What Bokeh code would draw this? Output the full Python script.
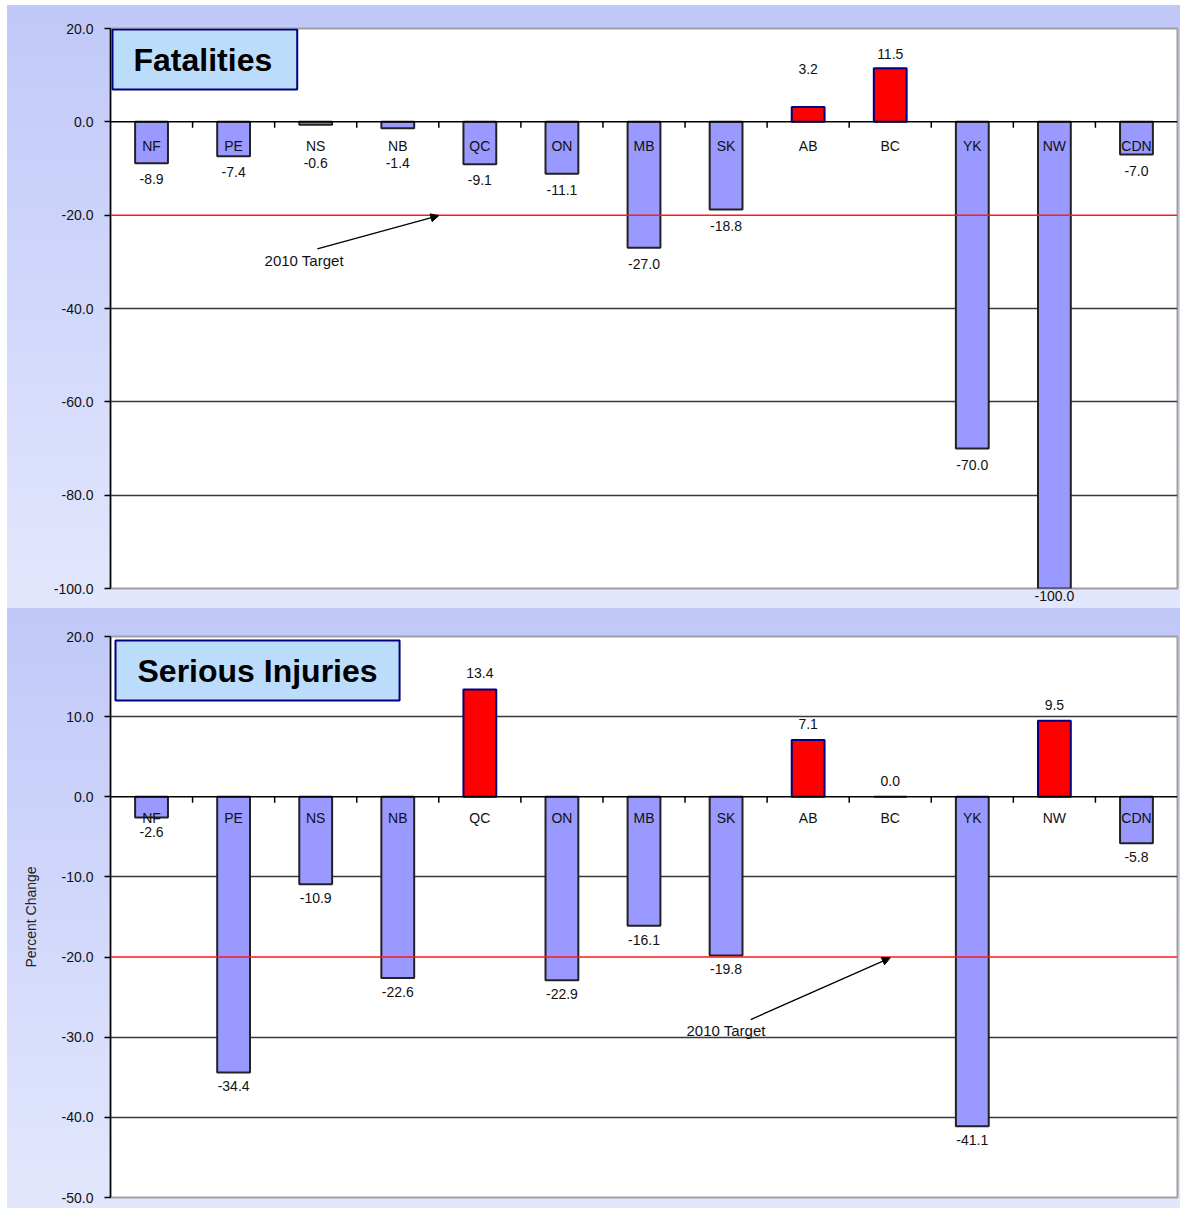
from bokeh.plotting import figure
from bokeh.models import (Range1d, FixedTicker, PrintfTickFormatter, Span, Label, Title,
                          Arrow, NormalHead, ColumnDataSource)
from bokeh.layouts import column
from bokeh.core.properties import value
from bokeh.embed import file_html
from bokeh.resources import INLINE

# ---------------- data ----------------
provinces = ["NF", "PE", "NS", "NB", "QC", "ON", "MB", "SK", "AB", "BC", "YK", "NW", "CDN"]
fatalities = [-8.9, -7.4, -0.6, -1.4, -9.1, -11.1, -27.0, -18.8, 3.2, 11.5, -70.0, -100.0, -7.0]
injuries = [-2.6, -34.4, -10.9, -22.6, 13.4, -22.9, -16.1, -19.8, 7.1, 0.0, -41.1, 9.5, -5.8]
fatal_ticks = [20, 0, -20, -40, -60, -80, -100]
injury_ticks = [20, 10, 0, -10, -20, -30, -40, -50]
target_2010 = -20
titles = ["Fatalities", "Serious Injuries"]
target_text = "2010 Target"
y_axis_title = "Percent Change"

FONT = "Liberation Sans"
NEG_FILL = "#9999ff"
POS_FILL = "#ff0000"


def panel(title, vals, ticks, frame_w, frame_h, b_left, b_top, b_bottom,
          neg_off, neg_min, pos_off, pos_min, cat_off, arrow, txt_pos,
          title_pad, title_off, axis_label=None):
    ymin, ymax = min(ticks), max(ticks)
    scale = frame_h / (ymax - ymin)  # px per unit
    n = len(provinces)
    p = figure(frame_width=frame_w, frame_height=frame_h,
               min_border_left=b_left, min_border_right=3,
               min_border_top=b_top, min_border_bottom=b_bottom,
               x_range=Range1d(-0.5, n - 0.5), y_range=Range1d(ymin, ymax),
               output_backend="svg", toolbar_location=None, tools="")
    p.styles = {"background": "linear-gradient(180deg, #c0c8f8 0%, #e3e7fd 100%)"}
    p.border_fill_color = None
    p.background_fill_color = "white"
    p.outline_line_color = "#a0a0a0"
    p.outline_line_width = 2

    p.xaxis.visible = False
    p.xgrid.visible = False
    p.ygrid.ticker = FixedTicker(ticks=[t for t in ticks if t not in (ymin, ymax, 0, target_2010)])
    p.ygrid.grid_line_color = "#383838"
    p.ygrid.grid_line_width = 1.5

    ax = p.yaxis[0]
    ax.ticker = FixedTicker(ticks=ticks)
    ax.formatter = PrintfTickFormatter(format="%.1f")
    ax.axis_line_color = "black"
    ax.axis_line_width = 1.5
    ax.major_tick_line_color = "black"
    ax.major_tick_line_width = 1.5
    ax.major_tick_out = 6
    ax.major_tick_in = 0
    ax.minor_tick_line_color = None
    ax.major_label_text_font = FONT
    ax.major_label_text_font_size = "14px"
    ax.major_label_text_color = "#111111"
    ax.major_label_standoff = 11
    if axis_label:
        ax.axis_label = axis_label
        ax.axis_label_text_font = FONT
        ax.axis_label_text_font_size = "14px"
        ax.axis_label_text_font_style = "normal"
        ax.axis_label_text_color = "#222222"
        ax.axis_label_standoff = 20

    xs = list(range(n))
    fills = [POS_FILL if v > 0 else NEG_FILL for v in vals]
    lines = ["#000080" if v > 0 else "#222222" for v in vals]
    src = ColumnDataSource(dict(x=xs, v=vals, fill=fills, line=lines,
                                cat=provinces, caty=[-cat_off / scale] * n))
    p.vbar(x="x", top="v", bottom=0, width=0.4, fill_color="fill", line_color="line",
           line_width=2, source=src)

    # zero axis line with category separator ticks
    p.add_layout(Span(location=0, dimension="width", line_color="black", line_width=1.5))
    p.segment(x0=[i + 0.5 for i in range(n - 1)], x1=[i + 0.5 for i in range(n - 1)],
              y0=[0] * (n - 1), y1=[-6 / scale] * (n - 1), line_color="black", line_width=1.5)

    p.text(x="x", y="caty", text="cat", source=src, text_align="center",
           text_baseline="middle", text_font=value(FONT), text_font_size="14px",
           text_color="#111111")

    # value labels
    frame_below = -ymin * scale  # px from zero line to frame bottom
    for xi, v in zip(xs, vals):
        txt = f"{v:.1f}"
        if v < 0:
            off = max(abs(v) * scale + neg_off, neg_min)
            if off > frame_below - 7:
                # label sits below the frame: draw it in the bottom border
                tw = 7.8 * len(txt.replace(".", "").replace("-", "")) + 3.9 + 4.7
                p.add_layout(Title(text=txt, align="left",
                                   offset=(xi + 0.5) * frame_w / n - tw / 2, standoff=0,
                                   text_font=FONT, text_font_size="14px",
                                   text_font_style="normal", text_color="#111111"),
                             "below")
                continue
            ly = -off / scale
        else:
            ly = max(v * scale + pos_off, pos_min) / scale
        p.add_layout(Label(x=xi, y=ly, text=txt, text_align="center",
                           text_baseline="middle", text_font=FONT, text_font_size="14px",
                           text_color="#111111"))

    # 2010 target line
    p.add_layout(Span(location=target_2010, dimension="width", line_color="#ff1a1a",
                      line_width=1.5))
    p.add_layout(Arrow(end=NormalHead(size=8, fill_color="black", line_color="black"),
                       x_start=arrow[0], y_start=arrow[1], x_end=arrow[2], y_end=arrow[3],
                       line_color="black", line_width=1.3))
    p.add_layout(Label(x=txt_pos[0], y=txt_pos[1], text=target_text, text_align="center",
                       text_baseline="middle", text_font=FONT, text_font_size="15px",
                       text_color="#111111"))

    # title box
    p.add_layout(Label(x=-0.5, y=ymax, x_offset=title_off[0], y_offset=title_off[1],
                       text=title, anchor="top_left", text_font=FONT,
                       text_font_size="32px", text_font_style="bold", text_color="black",
                       background_fill_color="#bcdcfc", border_line_color="#000080",
                       border_line_width=2, padding=title_pad))
    return p


top = panel(titles[0], fatalities, fatal_ticks, 1067, 560, 103, 23, 20,
            neg_off=16, neg_min=41, pos_off=14, pos_min=53, cat_off=24,
            arrow=(2.02, -27.2, 3.5, -20.1), txt_pos=(1.86, -29.8),
            title_pad=dict(left=21, right=25, top=12, bottom=12), title_off=(2, -1))
bottom = panel(titles[1], injuries, injury_ticks, 1067, 561, 103, 28, 11,
               neg_off=14, neg_min=0, pos_off=16, pos_min=0, cat_off=21,
               arrow=(7.3, -27.8, 9.0, -20.1), txt_pos=(7.0, -29.1),
               title_pad=dict(left=22, right=22, top=12, bottom=12), title_off=(5, -4),
               axis_label=y_axis_title)

layout = column(top, bottom, spacing=0, margin=(5, 0, 0, 7))
open("out.html", "w").write(file_html(layout, INLINE))
